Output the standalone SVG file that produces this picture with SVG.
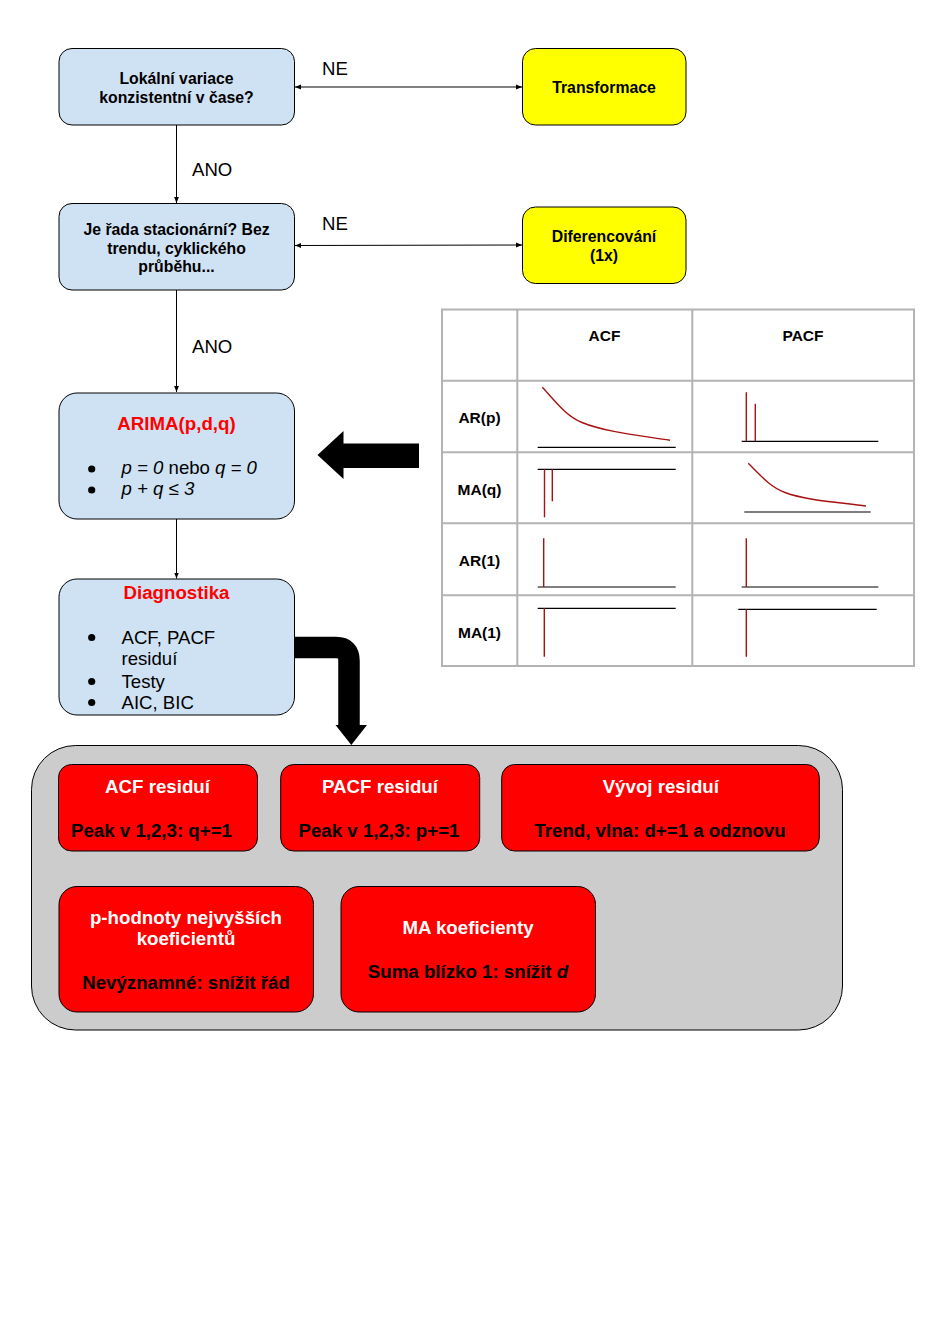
<svg xmlns="http://www.w3.org/2000/svg" width="944" height="1321" viewBox="0 0 944 1321">
  <defs>
    <style>
      .box { stroke: #000; stroke-width: 1; }
      .blue { fill: #cfe2f3; }
      .yellow { fill: #ffff00; }
      .red { fill: #ff0000; }
      .t { font-family: "Liberation Sans", Arial, sans-serif; fill: #000; }
      .b15 { font-size: 15.8px; font-weight: bold; text-anchor: middle; }
      .b18 { font-size: 18.7px; font-weight: bold; text-anchor: middle; }
      .r18 { font-size: 18.6px; }
      .title { fill: #ff0000; }
      .white { fill: #fff; }
      .conn { stroke: #000; stroke-width: 1; fill: none; }
      .grid { stroke: #b3b3b3; stroke-width: 2; fill: none; }
      .axis { stroke: #000; stroke-width: 1.2; fill: none; }
      .plot { stroke: #a81212; stroke-width: 1.4; fill: none; }
      .tab { font-family: "Liberation Sans", Arial, sans-serif; font-size: 15.5px; font-weight: bold; text-anchor: middle; }
    </style>
    <marker id="ah" viewBox="0 0 10 10" refX="10" refY="5" markerWidth="6" markerHeight="6" orient="auto-start-reverse" markerUnits="userSpaceOnUse">
      <path d="M0,1 L10,5 L0,9 Z" fill="#000"/>
    </marker>
  </defs>

  <rect width="944" height="1321" fill="#fff"/>

  <!-- connectors -->
  <g id="connectors">
    <line class="conn" x1="295" y1="87" x2="522" y2="87" marker-start="url(#ah)" marker-end="url(#ah)"/>
    <line class="conn" x1="295" y1="245.5" x2="522" y2="245" marker-start="url(#ah)" marker-end="url(#ah)"/>
    <line class="conn" x1="176.5" y1="125" x2="176.5" y2="203" marker-end="url(#ah)"/>
    <line class="conn" x1="176.5" y1="290" x2="176.5" y2="392" marker-end="url(#ah)"/>
    <line class="conn" x1="176.5" y1="519" x2="176.5" y2="578.5" marker-end="url(#ah)"/>
    <text class="t r18" x="322" y="75">NE</text>
    <text class="t r18" x="322" y="229.5">NE</text>
    <text class="t r18" x="192" y="175.5">ANO</text>
    <text class="t r18" x="192" y="353">ANO</text>
    <!-- block arrow from the table to the ARIMA node -->
    <polygon points="317.5,455 343.5,431 343.5,443.5 419,443.5 419,468 343.5,468 343.5,479" fill="#000"/>
    <!-- bent arrow from diagnostics down to the residual checks -->
    <path d="M294,647.5 H336 Q349,647.5 349,660.5 V727" stroke="#000" stroke-width="21.5" fill="none"/>
    <polygon points="335.5,725 367,725 351.3,745" fill="#000"/>
  </g>

  <!-- decision nodes -->
  <g id="node-variance">
    <rect class="box blue" x="59" y="48.5" width="235.5" height="76.5" rx="13"/>
    <text class="t b15" x="176.5" y="84">Lokální variace</text>
    <text class="t b15" x="176.5" y="103">konzistentní v čase?</text>
  </g>
  <g id="node-stationary">
    <rect class="box blue" x="59" y="203.5" width="235.5" height="86.5" rx="13"/>
    <text class="t b15" x="176.5" y="234.5">Je řada stacionární? Bez</text>
    <text class="t b15" x="176.5" y="253.5">trendu, cyklického</text>
    <text class="t b15" x="176.5" y="272">průběhu...</text>
  </g>
  <g id="node-transform">
    <rect class="box yellow" x="522.5" y="48.5" width="163.5" height="76.5" rx="13"/>
    <text class="t b15" x="604" y="92.5">Transformace</text>
  </g>
  <g id="node-diff">
    <rect class="box yellow" x="522.5" y="207" width="163.5" height="76.5" rx="13"/>
    <text class="t b15" x="604" y="241.5">Diferencování</text>
    <text class="t b15" x="604" y="260.5">(1x)</text>
  </g>

  <g id="node-arima">
    <rect class="box blue" x="59" y="393" width="235.5" height="126" rx="18"/>
    <text class="t b18 title" x="176.5" y="430">ARIMA(p,d,q)</text>
    <circle cx="91.7" cy="469" r="3.6" fill="#000"/>
    <circle cx="91.7" cy="490" r="3.6" fill="#000"/>
    <text class="t r18" x="121.5" y="474"><tspan font-style="italic">p = 0</tspan> nebo <tspan font-style="italic">q = 0</tspan></text>
    <text class="t r18" x="121.5" y="495" font-style="italic">p + q ≤ 3</text>
  </g>

  <g id="node-diagnostics">
    <rect class="box blue" x="59" y="579" width="235.5" height="136" rx="18"/>
    <text class="t b18 title" x="176.5" y="599">Diagnostika</text>
    <circle cx="91.7" cy="637.5" r="3.6" fill="#000"/>
    <circle cx="91.7" cy="681.5" r="3.6" fill="#000"/>
    <circle cx="91.7" cy="702.5" r="3.6" fill="#000"/>
    <text class="t r18" x="121.5" y="643.5">ACF, PACF</text>
    <text class="t r18" x="121.5" y="665">residuí</text>
    <text class="t r18" x="121.5" y="687.5">Testy</text>
    <text class="t r18" x="121.5" y="709">AIC, BIC</text>
  </g>

  <!-- ACF / PACF reference table -->
  <g id="acf-table">
    <rect x="442" y="309.5" width="472" height="356.5" fill="#fff" class="grid"/>
    <line class="grid" x1="517.3" y1="309.5" x2="517.3" y2="666"/>
    <line class="grid" x1="692.3" y1="309.5" x2="692.3" y2="666"/>
    <line class="grid" x1="442" y1="380.7" x2="914" y2="380.7"/>
    <line class="grid" x1="442" y1="452.2" x2="914" y2="452.2"/>
    <line class="grid" x1="442" y1="523.2" x2="914" y2="523.2"/>
    <line class="grid" x1="442" y1="595.2" x2="914" y2="595.2"/>

    <text class="tab" x="604.5" y="341">ACF</text>
    <text class="tab" x="803" y="341">PACF</text>
    <text class="tab" x="479.5" y="423">AR(p)</text>
    <text class="tab" x="479.5" y="494.5">MA(q)</text>
    <text class="tab" x="479.5" y="566">AR(1)</text>
    <text class="tab" x="479.5" y="637.5">MA(1)</text>

    <!-- AR(p) -->
    <line class="axis" x1="537.7" y1="447.3" x2="675.7" y2="447.3"/>
    <path class="plot" d="M542.3,387.3 C556,402 566,416 582,422.5 C605,432 640,435.5 670,440.3"/>
    <line class="axis" x1="741.7" y1="441.3" x2="878.3" y2="441.3"/>
    <line class="plot" x1="746.3" y1="392.3" x2="746.3" y2="441"/>
    <line class="plot" x1="755.3" y1="403.7" x2="755.3" y2="441"/>

    <!-- MA(q) -->
    <line class="axis" x1="537.7" y1="469.3" x2="675.7" y2="469.3"/>
    <line class="plot" x1="544.5" y1="469.3" x2="544.5" y2="517.3"/>
    <line class="plot" x1="552.3" y1="469.3" x2="552.3" y2="501.3"/>
    <line class="axis" x1="744.3" y1="512" x2="870.7" y2="512"/>
    <path class="plot" d="M748.3,463.3 C760,475 770,487 785,492.5 C805,500 835,502 866,506"/>

    <!-- AR(1) -->
    <line class="axis" x1="537.7" y1="587" x2="675.7" y2="587"/>
    <line class="plot" x1="543.7" y1="538.3" x2="543.7" y2="587"/>
    <line class="axis" x1="741.7" y1="587" x2="878.3" y2="587"/>
    <line class="plot" x1="746.3" y1="538.3" x2="746.3" y2="587"/>

    <!-- MA(1) -->
    <line class="axis" x1="537.7" y1="608.3" x2="675.7" y2="608.3"/>
    <line class="plot" x1="544.3" y1="608.3" x2="544.3" y2="656.7"/>
    <line class="axis" x1="738.3" y1="609.3" x2="876.7" y2="609.3"/>
    <line class="plot" x1="746.3" y1="609.3" x2="746.3" y2="656.7"/>
  </g>

  <!-- residual checks panel -->
  <g id="residual-panel">
    <rect x="31.5" y="745.5" width="811" height="284.5" rx="44" fill="#cccccc" stroke="#000" stroke-width="1"/>
  </g>
  <g id="node-acf-res">
    <rect class="box red" x="58.5" y="764.5" width="199" height="86.5" rx="13"/>
    <text class="t b18 white" x="157.5" y="793.3">ACF residuí</text>
    <text class="t b18" x="151.5" y="836.7">Peak v 1,2,3: q+=1</text>
  </g>
  <g id="node-pacf-res">
    <rect class="box red" x="280.7" y="764.5" width="199" height="86.5" rx="13"/>
    <text class="t b18 white" x="380" y="793.3">PACF residuí</text>
    <text class="t b18" x="379" y="836.7">Peak v 1,2,3: p+=1</text>
  </g>
  <g id="node-trend-res">
    <rect class="box red" x="501.7" y="764.5" width="317.6" height="86.5" rx="13"/>
    <text class="t b18 white" x="660.8" y="793.3">Vývoj residuí</text>
    <text class="t b18" x="660" y="836.7">Trend, vlna: d+=1 a odznovu</text>
  </g>
  <g id="node-pvalues">
    <rect class="box red" x="59" y="886.5" width="254.5" height="125.5" rx="18"/>
    <text class="t b18 white" x="186" y="924">p-hodnoty nejvyšších</text>
    <text class="t b18 white" x="186" y="945">koeficientů</text>
    <text class="t b18" x="186" y="989">Nevýznamné: snížit řád</text>
  </g>
  <g id="node-ma-coef">
    <rect class="box red" x="341" y="886.5" width="254.5" height="125.5" rx="18"/>
    <text class="t b18 white" x="468" y="934">MA koeficienty</text>
    <text class="t b18" x="468" y="977.7">Suma blízko 1: snížit <tspan font-style="italic">d</tspan></text>
  </g>
</svg>
